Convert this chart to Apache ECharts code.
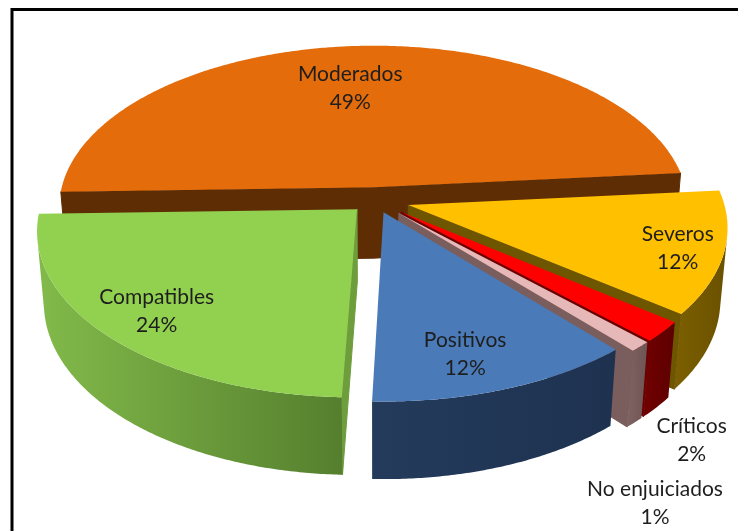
<!DOCTYPE html>
<html>
<head>
<meta charset="utf-8">
<script src="https://cdn.jsdelivr.net/npm/echarts@6/dist/echarts.min.js"></script>
<style>
  html, body { margin: 0; padding: 0; background: #ffffff; }
  #chart { width: 738px; height: 531px; }
</style>
</head>
<body>
<div id="chart"></div>
<script>
// Slices, clockwise from the left edge of the pie
const categories = ['Moderados', 'Severos', 'Críticos', 'No enjuiciados', 'Positivos', 'Compatibles'];
const percentages = [49, 12, 2, 1, 12, 24];

// Face colours per slice
const topColors  = ['#E46C0A', '#FFC000', '#FF0000', '#E6B9B8', '#4A7BB8', '#92D050'];
const wallColors = [['#5F2D04', '#5F2D04'], ['#7C5F00', '#6A5100'], ['#700000', '#5E0000'],
                    ['#806262', '#6E5454'], ['#243B5C', '#1E3250'], ['#82BA4A', '#557F2E']];
const sideColors = ['#5F2D04', '#6E5600', '#6A0000', '#7A5E5E', '#21375A', '#6E9E3C'];

// How far each slice is pulled out, as a share of the radius
const explode = [0.08, 0.11, 0.11, 0.11, 0.08, 0.08];

// Label placement: [angle shift from the slice middle in degrees, distance from centre]
const labelLayout = [[3.1, 0.76], [-0.7, 0.97], [-14.2, 1.51], [-17.6, 1.68], [-2.9, 0.89], [0, 0.90]];

// Camera for the tilted, perspective pie
const view = { cx: 375, cy: 200, focal: 2160, dist: 6.86, tilt: 31, height: 0.27, startAngle: 181.6 };

const RAD = Math.PI / 180;
const sinT = Math.sin(view.tilt * RAD);
const cosT = Math.cos(view.tilt * RAD);

function project(X, Y, Z) {
  const depth = view.dist + Y * cosT - Z * sinT;
  return [view.cx + view.focal * X / depth, view.cy - view.focal * (Y * sinT + Z * cosT) / depth];
}

function polygon(points, fill, z2, edge) {
  return {
    type: 'polygon', shape: { points: points }, z2: z2,
    style: edge ? { fill: fill, stroke: edge, lineWidth: 1 } : { fill: fill, stroke: null }
  };
}

function renderItem(params, api) {
  const i = params.dataIndex;
  const value = api.value(0);
  const total = percentages.reduce((s, v) => s + v, 0);
  let before = 0;
  for (let k = 0; k < i; k++) before += percentages[k];
  const a0 = view.startAngle - before / total * 360;
  const a1 = a0 - value / total * 360;
  const mid = (a0 + a1) / 2;
  const ox = explode[i] * Math.cos(mid * RAD);
  const oy = explode[i] * Math.sin(mid * RAD);
  const h = view.height;
  const camY = -view.dist * cosT;

  const children = [];
  const rim = (ang, z) => project(ox + Math.cos(ang * RAD), oy + Math.sin(ang * RAD), z);

  // Cut faces along the two radii
  [[a0, a0 + 90], [a1, a1 - 90]].forEach(([ang, nAng]) => {
    const nx = Math.cos(nAng * RAD), ny = Math.sin(nAng * RAD);
    if (nx * (-ox) + ny * (camY - oy) > 0) {
      children.push(polygon([
        project(ox, oy, 0), rim(ang, 0), rim(ang, -h), project(ox, oy, -h)
      ], sideColors[i], 1, sideColors[i]));
    }
  });

  // Outer wall, only the part turned towards the viewer
  const steps = Math.max(2, Math.ceil((a0 - a1) / 0.5));
  let run = [];
  const runs = [];
  for (let s = 0; s <= steps; s++) {
    const ang = a0 - (a0 - a1) * s / steps;
    const c = Math.cos(ang * RAD), sn = Math.sin(ang * RAD);
    const facing = -c * ox - sn * (view.dist * cosT + oy) - 1 > 0;
    if (facing) run.push(ang);
    else if (run.length) { runs.push(run); run = []; }
  }
  if (run.length) runs.push(run);
  runs.forEach(r => {
    if (r.length < 2) return;
    const pts = r.map(ang => rim(ang, 0));
    for (let k = r.length - 1; k >= 0; k--) pts.push(rim(r[k], -h));
    children.push(polygon(pts, {
      type: 'linear', x: 0, y: 0, x2: 1, y2: 0,
      colorStops: [{ offset: 0, color: wallColors[i][0] }, { offset: 1, color: wallColors[i][1] }]
    }, 2));
  });

  // Top face
  const topPts = [project(ox, oy, 0)];
  for (let s = 0; s <= steps; s++) topPts.push(rim(a0 - (a0 - a1) * s / steps, 0));
  children.push(polygon(topPts, topColors[i], 3));

  // Label
  const la = (mid + labelLayout[i][0]) * RAD;
  const lr = labelLayout[i][1];
  const lp = project(lr * Math.cos(la), lr * Math.sin(la), 0);
  children.push({
    type: 'text', x: lp[0], y: lp[1], z2: 100,
    style: {
      text: categories[i] + '\n' + value + '%',
      fill: '#1E1E1E', fontSize: 21, fontFamily: 'Lato', lineHeight: 28,
      align: 'center', verticalAlign: 'middle'
    }
  });

  return { type: 'group', children: children };
}

const chart = echarts.init(document.getElementById('chart'), null, { renderer: 'canvas' });
chart.setOption({
  animation: false,
  backgroundColor: '#ffffff',
  graphic: [{
    type: 'rect', z: 10,
    shape: { x: 12, y: 9.5, width: 800, height: 600 },
    style: { fill: 'none', stroke: '#000000', lineWidth: 3 }
  }],
  series: [{
    type: 'custom',
    coordinateSystem: 'none',
    renderItem: renderItem,
    data: percentages.map((v, i) => ({ name: categories[i], value: v }))
  }]
});
</script>
</body>
</html>
